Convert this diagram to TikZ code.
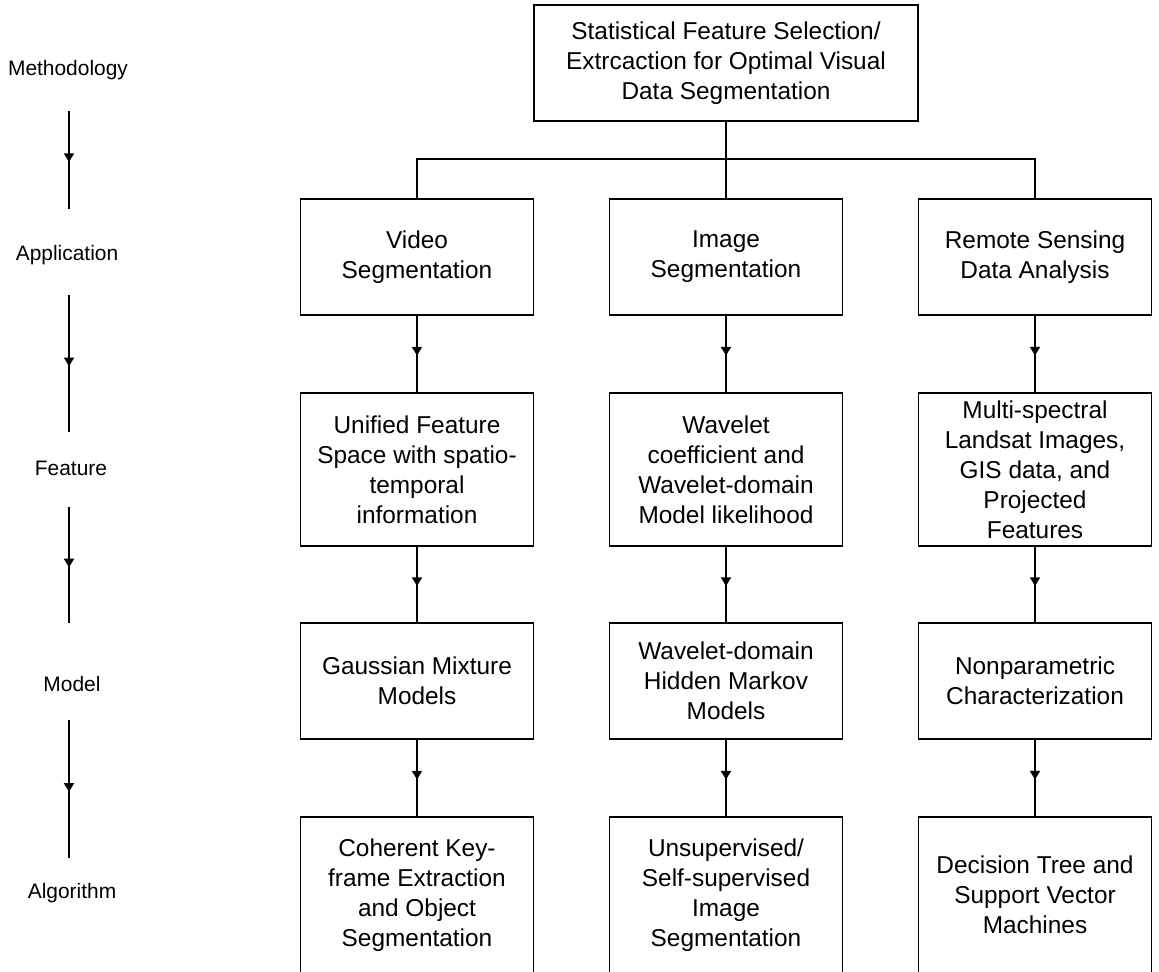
\documentclass[tikz,border=0pt]{standalone}
\usepackage{fontspec}
\setmainfont{Liberation Sans}
\usetikzlibrary{arrows.meta,decorations.markings}

\begin{document}
\begin{tikzpicture}[x=0.75pt,y=-0.75pt,
  box/.style={draw,line width=1.4pt,align=center,inner sep=0pt,
    font=\fontsize{18.3}{22.5}\selectfont},
  topbox/.style={box,minimum width=288pt,minimum height=87pt},
  shortbox/.style={box,minimum width=174.75pt,minimum height=87pt},
  tallbox/.style={box,minimum width=174.75pt,minimum height=114.75pt},
  lastbox/.style={box,minimum width=174.75pt,minimum height=117pt},
  level/.style={font=\fontsize{15.7}{19}\selectfont,inner sep=0pt},
  link/.style={line width=1.4pt},
  flow/.style={line width=1.4pt,postaction={decorate},
    decoration={markings,mark=at position 0.52 with {\arrow{Triangle[length=6.5pt,width=7.5pt]}}}},
]
\useasboundingbox (0,0) rectangle (1159,971);
\clip (0,0) rectangle (1159,971);

% level names down the left side
\node[level] (lmeth) at (68,70)  {Methodology};
\node[level] (lapp)  at (67,255) {Application};
\node[level] (lfeat) at (71,468) {Feature};
\node[level] (lmod)  at (72,684) {Model};
\node[level] (lalg)  at (72,893) {Algorithm};

\coordinate (s1) at (69,111); \coordinate (e1) at (69,209);
\coordinate (s2) at (69,295); \coordinate (e2) at (69,432);
\coordinate (s3) at (69,507); \coordinate (e3) at (69,623);
\coordinate (s4) at (69,720); \coordinate (e4) at (69,858);
\draw[flow] (s1) -- (e1);
\draw[flow] (s2) -- (e2);
\draw[flow] (s3) -- (e3);
\draw[flow] (s4) -- (e4);

% root
\node[topbox] (root) at (726,63) {Statistical Feature Selection/\\Extrcaction for Optimal Visual\\Data Segmentation};

% applications
\node[shortbox] (vapp) at (417,257)  {Video\\Segmentation};
\node[shortbox] (iapp) at (726,257)  {Image\\Segmentation};
\node[shortbox] (rapp) at (1035,257) {Remote Sensing\\Data Analysis};

% features
\node[tallbox] (vfeat) at (417,469.5)  {Unified Feature\\Space with spatio-\\temporal\\information};
\node[tallbox] (ifeat) at (726,469.5)  {Wavelet\\coefficient and\\Wavelet-domain\\Model likelihood};
\node[tallbox] (rfeat) at (1035,469.5) {Multi-spectral\\Landsat Images,\\GIS data, and\\Projected\\Features};

% models
\node[shortbox] (vmod) at (417,681)  {Gaussian Mixture\\Models};
\node[shortbox] (imod) at (726,681)  {Wavelet-domain\\Hidden Markov\\Models};
\node[shortbox] (rmod) at (1035,681) {Nonparametric\\Characterization};

% algorithms
\node[lastbox] (valg) at (417,895)  {Coherent Key-\\frame Extraction\\and Object\\Segmentation};
\node[lastbox] (ialg) at (726,895)  {Unsupervised/\\Self-supervised\\Image\\Segmentation};
\node[lastbox] (ralg) at (1035,895) {Decision Tree and\\Support Vector\\Machines};

% branching from the root
\coordinate (bus) at (726,159);
\draw[link] (root.south) -- (iapp.north);
\draw[link] (vapp.north) |- (bus) -| (rapp.north);

% column flows
\draw[flow] (vapp.south) -- (vfeat.north);
\draw[flow] (iapp.south) -- (ifeat.north);
\draw[flow] (rapp.south) -- (rfeat.north);
\draw[flow] (vfeat.south) -- (vmod.north);
\draw[flow] (ifeat.south) -- (imod.north);
\draw[flow] (rfeat.south) -- (rmod.north);
\draw[flow] (vmod.south) -- (valg.north);
\draw[flow] (imod.south) -- (ialg.north);
\draw[flow] (rmod.south) -- (ralg.north);
\end{tikzpicture}
\end{document}
